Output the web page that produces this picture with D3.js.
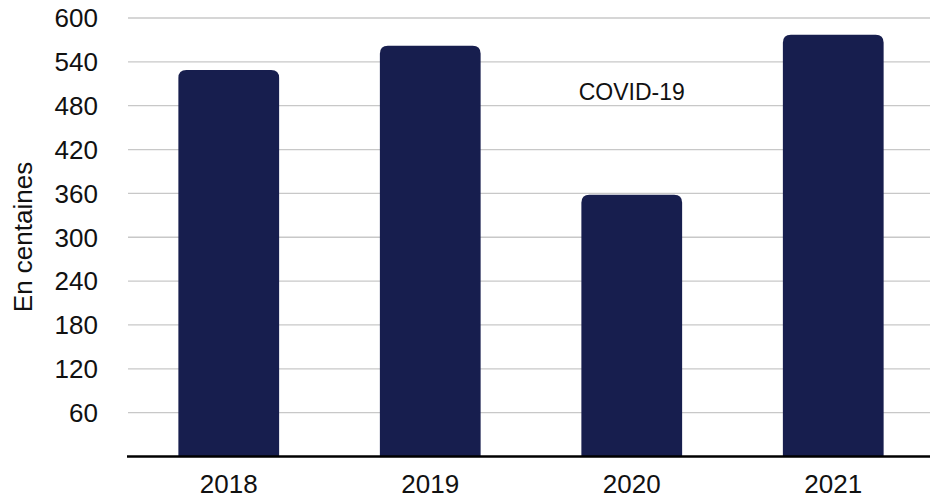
<!DOCTYPE html>
<html>
<head>
<meta charset="utf-8">
<script src="https://cdn.jsdelivr.net/npm/d3@7"></script>
<style>
  body { margin: 0; background: #fff; }
  text { font-family: "Liberation Sans", Arial, Helvetica, sans-serif; fill: #111; }
</style>
</head>
<body>
<svg id="chart" width="930" height="500"></svg>
<script>
// data
var years = ["2018", "2019", "2020", "2021"];
var values = [529, 562, 358, 577];
var yTicks = [60, 120, 180, 240, 300, 360, 420, 480, 540, 600];
var yLabel = "En centaines";
var note = { year: "2020", value: 488, text: "COVID-19" };

var svg = d3.select("#chart");
var W = 930, H = 500;
var m = { left: 128, right: 0, top: 18, bottom: 44 };

var x = d3.scaleBand()
  .domain(years)
  .range([m.left, 934])
  .paddingInner(0.5)
  .paddingOuter(0.25);

var y = d3.scaleLinear()
  .domain([0, 600])
  .range([456.5, m.top]);

// gridlines
svg.append("g")
  .selectAll("line")
  .data(yTicks)
  .join("line")
    .attr("x1", m.left)
    .attr("x2", W)
    .attr("y1", d => y(d))
    .attr("y2", d => y(d))
    .attr("stroke", "#c8c8c8")
    .attr("stroke-width", 1.3);

// y tick labels
svg.append("g")
  .selectAll("text")
  .data(yTicks)
  .join("text")
    .attr("x", 98)
    .attr("y", d => y(d))
    .attr("dy", "0.36em")
    .attr("text-anchor", "end")
    .attr("font-size", 26)
    .text(d => d);

// bars, rounded on top only
var r = 8;
function barPath(d, i) {
  var x0 = x(years[i]), w = x.bandwidth();
  var top = y(d), base = y(0);
  return "M" + x0 + "," + base +
    "V" + (top + r) +
    "Q" + x0 + "," + top + " " + (x0 + r) + "," + top +
    "H" + (x0 + w - r) +
    "Q" + (x0 + w) + "," + top + " " + (x0 + w) + "," + (top + r) +
    "V" + base + "Z";
}

svg.append("g")
  .selectAll("path")
  .data(values)
  .join("path")
    .attr("d", barPath)
    .attr("fill", "#171e4e");

// baseline
svg.append("line")
  .attr("x1", m.left - 1)
  .attr("x2", W)
  .attr("y1", y(0))
  .attr("y2", y(0))
  .attr("stroke", "#000")
  .attr("stroke-width", 2.5);

// x labels
svg.append("g")
  .selectAll("text")
  .data(years)
  .join("text")
    .attr("x", d => x(d) + x.bandwidth() / 2)
    .attr("y", 493)
    .attr("text-anchor", "middle")
    .attr("font-size", 26)
    .text(d => d);

// y axis title
svg.append("text")
  .attr("transform", "translate(32," + 237 + ") rotate(-90)")
  .attr("text-anchor", "middle")
  .attr("font-size", 26)
  .text(yLabel);

// annotation
svg.append("text")
  .attr("x", x(note.year) + x.bandwidth() / 2)
  .attr("y", y(note.value))
  .attr("text-anchor", "middle")
  .attr("font-size", 23)
  .text(note.text);
</script>
</body>
</html>
